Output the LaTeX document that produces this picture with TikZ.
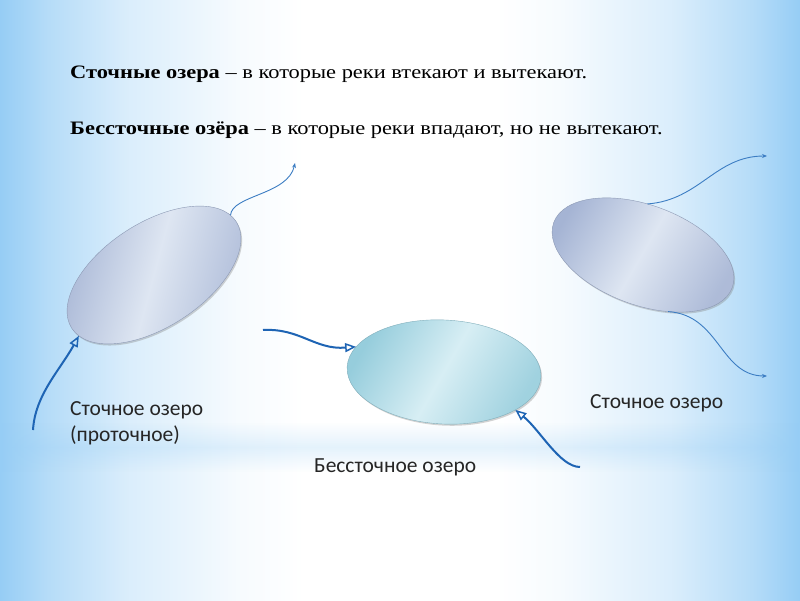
\documentclass[tikz,border=0pt]{standalone}
\usepackage{fontspec}
\setmainfont{Liberation Serif}
\newfontfamily\headfont{Liberation Serif}
\newfontfamily\labfont{Carlito}
\usetikzlibrary{shapes.geometric,arrows.meta,shadows,fadings}
\definecolor{bgblue}{RGB}{150,205,245}
\definecolor{lakeA}{RGB}{165,180,212}
\definecolor{lakeAl}{RGB}{222,230,242}
\definecolor{lakeB}{RGB}{150,205,220}
\definecolor{lakeBl}{RGB}{215,238,244}
\definecolor{rivthick}{RGB}{30,100,180}
\definecolor{rivthin}{RGB}{60,125,195}
\pgfdeclarehorizontalshading{bgsh}{100bp}{color(0bp)=(bgblue); color(25bp)=(bgblue); color(28bp)=(bgblue!70!white); color(33bp)=(bgblue!35!white); color(40bp)=(bgblue!8!white); color(44bp)=(white); color(56bp)=(white); color(60bp)=(bgblue!8!white); color(67bp)=(bgblue!35!white); color(72bp)=(bgblue!70!white); color(75bp)=(bgblue); color(100bp)=(bgblue)}
\tikzfading[name=bandfade, top color=transparent!100, bottom color=transparent!100, middle color=transparent!0]
\tikzset{
  lake/.style={ellipse, inner sep=0pt, outer sep=0pt, draw=#1!85!black, line width=0.4pt,
    drop shadow={shadow xshift=1.2pt, shadow yshift=-1.6pt, opacity=0.35}},
  inflow/.style={draw=rivthick, line width=2pt, -{Triangle[open,length=11pt,width=9pt,line width=1.5pt]}},
  outflow/.style={draw=rivthin, line width=0.9pt, -{Stealth[length=5pt,width=4pt]}},
  head/.style={anchor=base west, inner sep=0pt, xscale=1.18, font=\headfont\fontsize{19}{22}\selectfont},
  lab/.style={anchor=base west, inner sep=0pt, font=\labfont\fontsize{21.5}{24}\selectfont, text=black!85}
}
\begin{document}
\begin{tikzpicture}[x=1pt,y=1pt]
\useasboundingbox (0,0) rectangle (800,600);
% background
\shade[shading=bgsh] (0,0) rectangle (800,600);
\fill[bgblue, path fading=bandfade, fill opacity=0.25] (0,128) rectangle (800,178);
% headings
\node[head] (t1) at (70,521) {\textbf{Сточные озера} – в которые реки втекают и вытекают.};
\node[head] (t2) at (70,465) {\textbf{Бессточные озёра} – в которые реки впадают, но не вытекают.};
% lakes
\node[lake=lakeA, minimum width=196pt, minimum height=104pt, rotate=33,
  top color=lakeA, bottom color=lakeA!90!white, middle color=lakeAl, shading angle=75] (L1) at (154,325) {};
\node[lake=lakeB, minimum width=194pt, minimum height=104pt, rotate=-3,
  top color=lakeB, bottom color=lakeB!90!white, middle color=lakeBl, shading angle=60] (M) at (444,228) {};
\node[lake=lakeA, minimum width=190pt, minimum height=100pt, rotate=-20,
  top color=lakeA, bottom color=lakeA!90!white, middle color=lakeAl, shading angle=60] (R) at (643,345) {};
% river end points
\coordinate (a1) at (33,170);
\coordinate (a2) at (295,437);
\coordinate (b1) at (263,270);
\coordinate (b2) at (580,133);
\coordinate (c1) at (767,444);
\coordinate (c2) at (767,224);
% rivers
\draw[inflow] (a1) .. controls (35,205) and (60,230) .. (L1.186);
\draw[outflow] (L1.5) .. controls (232,405) and (288,405) .. (a2);
\draw[inflow] (b1) .. controls (300,272) and (315,250) .. (M.167);
\draw[inflow] (b2) .. controls (560,133) and (540,170) .. (M.335);
\draw[outflow] (R.105) .. controls (700,400) and (715,444) .. (c1);
\draw[outflow] (R.-46) .. controls (720,285) and (720,224) .. (c2);
% labels
\node[lab] (l1) at (70,184) {Сточное озеро};
\node[lab] (l2) at (70,158) {(проточное)};
\node[lab] (l3) at (314,128) {Бессточное озеро};
\node[lab] (l4) at (590,191) {Сточное озеро};
\end{tikzpicture}
\end{document}
